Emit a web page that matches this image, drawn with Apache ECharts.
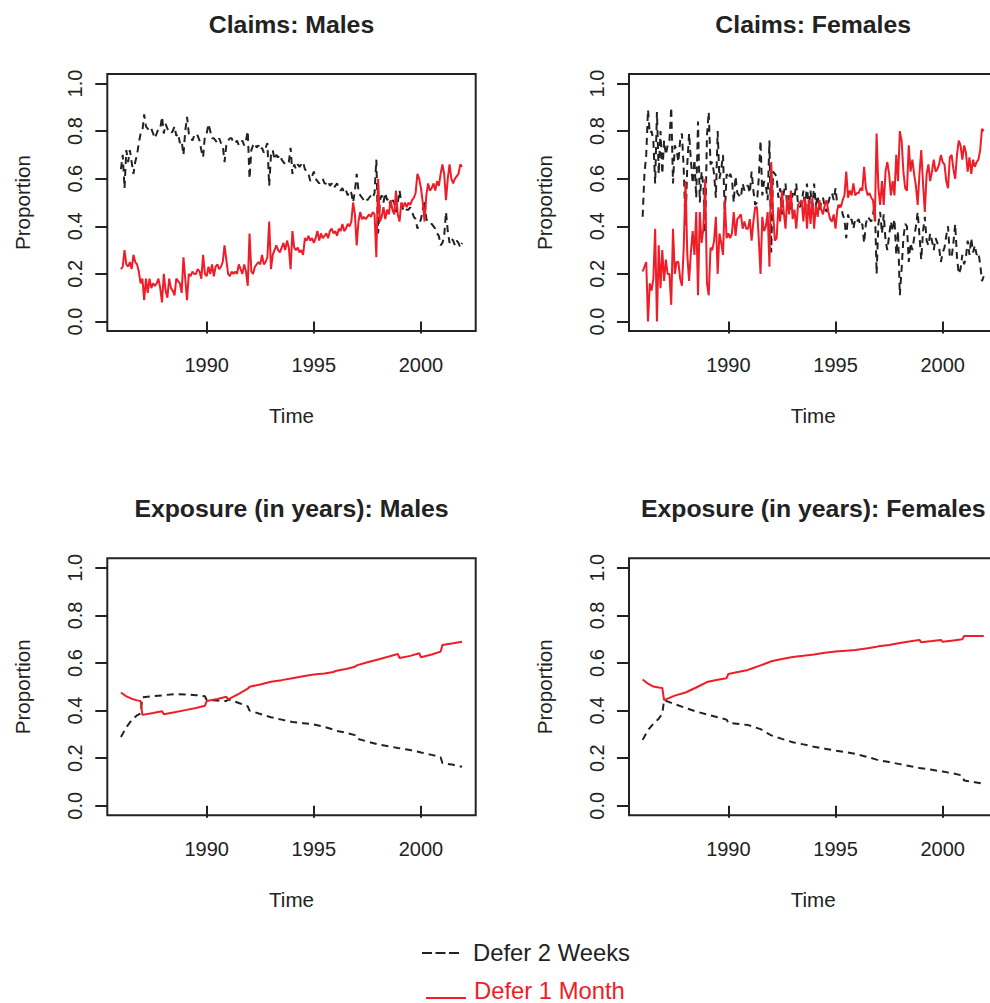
<!DOCTYPE html>
<html>
<head>
<meta charset="utf-8">
<script src="https://cdn.jsdelivr.net/npm/echarts@6/dist/echarts.min.js"></script>
<style>
  html, body { margin: 0; padding: 0; background: #ffffff; }
  #chart { width: 990px; height: 1003px; }
</style>
</head>
<body>
<div id="chart"></div>
<script>
// Monthly proportions of claims, Jan 1986 .. Dec 2001 (one row per year)
const claimsStartYear = 1986;

const claimsMaleD2W = [
  0.64, 0.70, 0.56, 0.72, 0.67, 0.72, 0.67, 0.62, 0.67, 0.70, 0.75, 0.79,
  0.80, 0.87, 0.82, 0.81, 0.80, 0.81, 0.79, 0.77, 0.79, 0.81, 0.81, 0.86,
  0.79, 0.83, 0.81, 0.80, 0.79, 0.80, 0.82, 0.78, 0.79, 0.75, 0.76, 0.70,
  0.80, 0.86, 0.79, 0.78, 0.76, 0.78, 0.79, 0.78, 0.76, 0.72, 0.69, 0.78,
  0.79, 0.83, 0.80, 0.77, 0.77, 0.76, 0.75, 0.77, 0.75, 0.74, 0.67, 0.74,
  0.76, 0.77, 0.77, 0.75, 0.75, 0.76, 0.74, 0.75, 0.76, 0.74, 0.76, 0.80,
  0.60, 0.72, 0.74, 0.75, 0.73, 0.74, 0.72, 0.73, 0.71, 0.73, 0.75, 0.57,
  0.70, 0.72, 0.68, 0.70, 0.69, 0.70, 0.68, 0.67, 0.66, 0.66, 0.67, 0.73,
  0.62, 0.66, 0.64, 0.66, 0.65, 0.66, 0.67, 0.64, 0.63, 0.62, 0.59, 0.61,
  0.63, 0.60, 0.59, 0.58, 0.59, 0.60, 0.58, 0.58, 0.59, 0.57, 0.58, 0.56,
  0.57, 0.58, 0.56, 0.55, 0.56, 0.54, 0.55, 0.53, 0.55, 0.54, 0.50, 0.55,
  0.62, 0.55, 0.53, 0.52, 0.51, 0.52, 0.51, 0.52, 0.53, 0.52, 0.54, 0.68,
  0.37, 0.51, 0.53, 0.50, 0.54, 0.51, 0.52, 0.48, 0.51, 0.50, 0.46, 0.50,
  0.55, 0.50, 0.47, 0.48, 0.47, 0.47, 0.48, 0.46, 0.44, 0.43, 0.39, 0.41,
  0.43, 0.47, 0.51, 0.43, 0.42, 0.41, 0.41, 0.40, 0.39, 0.37, 0.36, 0.32,
  0.33, 0.36, 0.46, 0.38, 0.33, 0.35, 0.34, 0.32, 0.34, 0.33, 0.31, 0.33
];

const claimsMaleD1M = [
  0.22, 0.23, 0.30, 0.24, 0.23, 0.25, 0.22, 0.28, 0.25, 0.24, 0.21, 0.16,
  0.18, 0.09, 0.18, 0.12, 0.18, 0.14, 0.16, 0.15, 0.16, 0.18, 0.14, 0.08,
  0.20, 0.13, 0.10, 0.18, 0.14, 0.13, 0.11, 0.18, 0.17, 0.16, 0.12, 0.27,
  0.18, 0.09, 0.20, 0.19, 0.21, 0.20, 0.20, 0.22, 0.21, 0.18, 0.28, 0.20,
  0.19, 0.23, 0.20, 0.24, 0.19, 0.23, 0.24, 0.22, 0.23, 0.25, 0.32, 0.26,
  0.20, 0.19, 0.21, 0.20, 0.21, 0.20, 0.24, 0.22, 0.20, 0.24, 0.21, 0.15,
  0.37, 0.21, 0.20, 0.23, 0.24, 0.25, 0.24, 0.28, 0.24, 0.25, 0.27, 0.42,
  0.22, 0.28, 0.30, 0.32, 0.30, 0.29, 0.31, 0.33, 0.30, 0.34, 0.31, 0.22,
  0.38, 0.31, 0.30, 0.31, 0.29, 0.30, 0.28, 0.35, 0.34, 0.36, 0.34, 0.35,
  0.33, 0.35, 0.38, 0.34, 0.37, 0.35, 0.36, 0.37, 0.35, 0.38, 0.39, 0.37,
  0.38, 0.36, 0.39, 0.38, 0.41, 0.38, 0.39, 0.41, 0.40, 0.42, 0.50, 0.45,
  0.32, 0.42, 0.46, 0.43, 0.44, 0.43, 0.44, 0.45, 0.44, 0.46, 0.45, 0.27,
  0.60, 0.42, 0.44, 0.48, 0.43, 0.47, 0.45, 0.51, 0.47, 0.45, 0.55, 0.45,
  0.42, 0.50, 0.48, 0.50, 0.48, 0.50, 0.49, 0.51, 0.52, 0.54, 0.62, 0.60,
  0.56, 0.50, 0.42, 0.53, 0.58, 0.55, 0.56, 0.58, 0.55, 0.59, 0.57, 0.62,
  0.66, 0.62, 0.51, 0.60, 0.66, 0.60, 0.58, 0.60, 0.61, 0.62, 0.66, 0.65
];

const claimsFemaleD2W = [
  0.44, 0.62, 0.70, 0.89, 0.79, 0.80, 0.76, 0.58, 0.88, 0.62, 0.80, 0.62,
  0.76, 0.70, 0.74, 0.76, 0.90, 0.58, 0.74, 0.72, 0.67, 0.76, 0.79, 0.64,
  0.40, 0.66, 0.79, 0.68, 0.58, 0.68, 0.52, 0.84, 0.50, 0.63, 0.57, 0.37,
  0.78, 0.88, 0.66, 0.67, 0.62, 0.52, 0.80, 0.60, 0.64, 0.70, 0.45, 0.62,
  0.60, 0.62, 0.60, 0.50, 0.61, 0.54, 0.53, 0.52, 0.58, 0.55, 0.57, 0.57,
  0.54, 0.63, 0.55, 0.49, 0.50, 0.60, 0.76, 0.53, 0.59, 0.57, 0.51, 0.76,
  0.29, 0.63, 0.62, 0.61, 0.52, 0.56, 0.45, 0.54, 0.58, 0.47, 0.53, 0.46,
  0.54, 0.52, 0.58, 0.49, 0.48, 0.50, 0.55, 0.47, 0.58, 0.47, 0.55, 0.46,
  0.58, 0.49, 0.53, 0.47, 0.50, 0.52, 0.48, 0.46, 0.50, 0.53, 0.54, 0.51,
  0.56, 0.49, 0.48, 0.49, 0.45, 0.43, 0.35, 0.45, 0.42, 0.43, 0.39, 0.43,
  0.42, 0.43, 0.40, 0.41, 0.33, 0.41, 0.44, 0.43, 0.42, 0.45, 0.50, 0.20,
  0.41, 0.46, 0.37, 0.45, 0.34, 0.30, 0.36, 0.42, 0.38, 0.43, 0.28, 0.38,
  0.11, 0.22, 0.35, 0.41, 0.40, 0.25, 0.33, 0.30, 0.35, 0.40, 0.46, 0.36,
  0.26, 0.38, 0.44, 0.34, 0.32, 0.37, 0.34, 0.30, 0.35, 0.33, 0.31, 0.25,
  0.29, 0.31, 0.36, 0.40, 0.27, 0.27, 0.33, 0.41, 0.27, 0.20, 0.22, 0.28,
  0.24, 0.27, 0.34, 0.28, 0.35, 0.29, 0.32, 0.28, 0.29, 0.24, 0.17, 0.19
];

const claimsFemaleD1M = [
  0.21, 0.23, 0.25, 0.00, 0.16, 0.13, 0.18, 0.39, 0.00, 0.32, 0.14, 0.30,
  0.17, 0.26, 0.20, 0.20, 0.07, 0.39, 0.20, 0.25, 0.25, 0.18, 0.15, 0.31,
  0.59, 0.28, 0.17, 0.29, 0.38, 0.28, 0.46, 0.11, 0.46, 0.33, 0.39, 0.60,
  0.16, 0.11, 0.31, 0.30, 0.34, 0.44, 0.20, 0.37, 0.33, 0.28, 0.51, 0.35,
  0.37, 0.35, 0.37, 0.46, 0.36, 0.43, 0.44, 0.45, 0.39, 0.42, 0.39, 0.39,
  0.43, 0.34, 0.42, 0.48, 0.48, 0.35, 0.20, 0.44, 0.38, 0.40, 0.46, 0.23,
  0.67, 0.46, 0.34, 0.35, 0.48, 0.42, 0.55, 0.46, 0.39, 0.53, 0.45, 0.55,
  0.43, 0.47, 0.39, 0.49, 0.50, 0.51, 0.42, 0.52, 0.39, 0.51, 0.41, 0.52,
  0.39, 0.49, 0.44, 0.51, 0.47, 0.45, 0.49, 0.51, 0.46, 0.43, 0.42, 0.45,
  0.39, 0.47, 0.49, 0.48, 0.51, 0.53, 0.63, 0.52, 0.55, 0.53, 0.58, 0.53,
  0.54, 0.54, 0.56, 0.55, 0.65, 0.56, 0.53, 0.54, 0.52, 0.51, 0.42, 0.79,
  0.56, 0.49, 0.59, 0.49, 0.63, 0.67, 0.62, 0.53, 0.59, 0.53, 0.70, 0.59,
  0.80, 0.76, 0.63, 0.56, 0.55, 0.74, 0.63, 0.68, 0.62, 0.57, 0.49, 0.62,
  0.72, 0.58, 0.46, 0.62, 0.66, 0.59, 0.63, 0.68, 0.63, 0.64, 0.66, 0.70,
  0.67, 0.66, 0.59, 0.56, 0.69, 0.70, 0.64, 0.60, 0.70, 0.76, 0.74, 0.68,
  0.74, 0.71, 0.63, 0.69, 0.62, 0.68, 0.65, 0.67, 0.68, 0.72, 0.81, 0.80
];

// Exposure proportions: smooth curves with small steps at year ends
const exposureTime = [
  1986.0, 1986.25, 1986.5, 1986.75, 1986.917, 1987.0, 1987.5, 1987.917, 1988.0, 1988.5,
  1989.0, 1989.5, 1989.917, 1990.0, 1990.5, 1990.917, 1991.0, 1991.5, 1991.917, 1992.0,
  1992.5, 1993.0, 1993.5, 1994.0, 1994.5, 1995.0, 1995.5, 1995.917, 1996.0, 1996.5,
  1996.917, 1997.0, 1997.5, 1998.0, 1998.5, 1998.917, 1999.0, 1999.5, 1999.917, 2000.0,
  2000.5, 2000.917, 2001.0, 2001.5, 2001.917
];

const exposureMaleD2W = [
  0.289, 0.330, 0.360, 0.380, 0.388, 0.456, 0.461, 0.464, 0.465, 0.469,
  0.468, 0.465, 0.460, 0.445, 0.442, 0.440, 0.447, 0.432, 0.418, 0.400,
  0.386, 0.372, 0.362, 0.352, 0.347, 0.342, 0.331, 0.320, 0.316, 0.307,
  0.297, 0.282, 0.270, 0.258, 0.250, 0.243, 0.242, 0.234, 0.226, 0.224,
  0.214, 0.204, 0.180, 0.172, 0.164
];

const exposureMaleD1M = [
  0.476, 0.460, 0.450, 0.443, 0.440, 0.382, 0.390, 0.397, 0.385, 0.393,
  0.402, 0.411, 0.420, 0.440, 0.449, 0.458, 0.447, 0.470, 0.492, 0.500,
  0.510, 0.521, 0.528, 0.536, 0.544, 0.552, 0.556, 0.562, 0.566, 0.575,
  0.584, 0.590, 0.603, 0.615, 0.627, 0.638, 0.621, 0.630, 0.641, 0.624,
  0.636, 0.648, 0.676, 0.683, 0.689
];

const exposureFemaleD2W = [
  0.277, 0.318, 0.345, 0.366, 0.387, 0.444, 0.427, 0.414, 0.411, 0.396,
  0.384, 0.372, 0.362, 0.348, 0.344, 0.339, 0.337, 0.322, 0.300, 0.296,
  0.281, 0.267, 0.258, 0.248, 0.240, 0.232, 0.225, 0.218, 0.216, 0.205,
  0.194, 0.192, 0.184, 0.175, 0.166, 0.159, 0.158, 0.151, 0.145, 0.144,
  0.136, 0.127, 0.106, 0.099, 0.092
];

const exposureFemaleD1M = [
  0.531, 0.513, 0.501, 0.497, 0.495, 0.444, 0.463, 0.474, 0.476, 0.497,
  0.520, 0.530, 0.536, 0.554, 0.563, 0.571, 0.574, 0.590, 0.604, 0.607,
  0.617, 0.625, 0.630, 0.636, 0.643, 0.648, 0.652, 0.655, 0.656, 0.662,
  0.668, 0.670, 0.676, 0.684, 0.691, 0.697, 0.687, 0.692, 0.697, 0.689,
  0.695, 0.700, 0.713, 0.714, 0.714
];

const panelTitles = [
  'Claims: Males', 'Claims: Females',
  'Exposure (in years): Males', 'Exposure (in years): Females'
];
const xTickValues = [1990, 1995, 2000];
const yTickValues = [0, 0.2, 0.4, 0.6, 0.8, 1.0];
const legendLabels = ['Defer 2 Weeks', 'Defer 1 Month'];

// ---------------------------------------------------------------------------
const FONT = '"Liberation Sans", Arial, Helvetica, sans-serif';
const INK = '#222222';
const RED = '#ee1d27';

const monthTime = claimsMaleD2W.map((_, i) => claimsStartYear + i / 12);
const pairs = (t, v) => v.map((y, i) => [t[i], y]);

// Plot boxes (pixels): [left, top]
const boxW = 368.4, boxH = 257;
const boxes = [[107.3, 74], [629, 74], [107.3, 558.3], [629, 558.3]];
const X_MIN = 1985.363, X_MAX = 2002.553;

const grids = boxes.map(([l, t]) => ({
  left: l, top: t, width: boxW, height: boxH,
  show: true, borderColor: INK, borderWidth: 2, backgroundColor: 'transparent',
  containLabel: false, outerBoundsMode: 'none'
}));

const xAxes = boxes.map((_, k) => ({
  type: 'value', gridIndex: k, min: X_MIN, max: X_MAX,
  axisLine: { show: false }, splitLine: { show: false },
  axisTick: { show: true, length: 12, inside: false, customValues: xTickValues,
              lineStyle: { color: INK, width: 2 } },
  axisLabel: { customValues: xTickValues, fontSize: 20, color: INK, fontFamily: FONT, margin: 24,
               formatter: v => String(v) },
  name: 'Time', nameLocation: 'middle', nameGap: 74,
  nameTextStyle: { fontSize: 20.6, color: INK, fontFamily: FONT }
}));

const yAxes = boxes.map((_, k) => ({
  type: 'value', gridIndex: k, min: -0.04, max: 1.04,
  axisLine: { show: false }, splitLine: { show: false },
  axisTick: { show: true, length: 12, inside: false, customValues: yTickValues,
              lineStyle: { color: INK, width: 2 } },
  axisLabel: { customValues: yTickValues, rotate: 90, fontSize: 20, color: INK, fontFamily: FONT,
               margin: 22, formatter: v => v.toFixed(1) },
  name: 'Proportion', nameLocation: 'middle', nameRotate: 90, nameGap: 74,
  nameTextStyle: { fontSize: 20.6, color: INK, fontFamily: FONT }
}));

const dashedStyle = { color: INK, width: 2, type: [7, 5] };
const solidStyle = { color: RED, width: 2, type: 'solid' };

const panelData = [
  [pairs(monthTime, claimsMaleD2W), pairs(monthTime, claimsMaleD1M)],
  [pairs(monthTime, claimsFemaleD2W), pairs(monthTime, claimsFemaleD1M)],
  [pairs(exposureTime, exposureMaleD2W), pairs(exposureTime, exposureMaleD1M)],
  [pairs(exposureTime, exposureFemaleD2W), pairs(exposureTime, exposureFemaleD1M)]
];

const series = [];
panelData.forEach(([d2w, d1m], k) => {
  series.push({
    name: legendLabels[0], type: 'line', xAxisIndex: k, yAxisIndex: k, data: d2w,
    showSymbol: false, symbol: 'none', lineStyle: dashedStyle, z: 2,
    emphasis: { disabled: true }, animation: false
  });
  series.push({
    name: legendLabels[1], type: 'line', xAxisIndex: k, yAxisIndex: k, data: d1m,
    showSymbol: false, symbol: 'none', lineStyle: solidStyle, z: 3,
    emphasis: { disabled: true }, animation: false
  });
});

const titleText = boxes.map(([l, t], k) => ({
  type: 'text', x: l + boxW / 2, y: t - 50,
  style: { text: panelTitles[k], fontSize: 24.8, fontWeight: 'bold', fontFamily: FONT,
           fill: INK, align: 'center', verticalAlign: 'middle' }
}));

const legendItems = [
  { type: 'line', shape: { x1: 422, y1: 953, x2: 460, y2: 953 },
    style: { stroke: INK, lineWidth: 2, lineDash: [10, 3.5] } },
  { type: 'text', x: 473, y: 952,
    style: { text: legendLabels[0], fontSize: 23.8, fontFamily: FONT, fill: INK,
             align: 'left', verticalAlign: 'middle' } },
  { type: 'line', shape: { x1: 426, y1: 998, x2: 466, y2: 998 },
    style: { stroke: RED, lineWidth: 2 } },
  { type: 'text', x: 474, y: 990,
    style: { text: legendLabels[1], fontSize: 23.8, fontFamily: FONT, fill: RED,
             align: 'left', verticalAlign: 'middle' } }
];

const chart = echarts.init(document.getElementById('chart'), null, { renderer: 'svg' });
chart.setOption({
  animation: false,
  backgroundColor: '#ffffff',
  textStyle: { fontFamily: FONT },
  grid: grids,
  xAxis: xAxes,
  yAxis: yAxes,
  series: series,
  graphic: { elements: titleText.concat(legendItems) }
});
</script>
</body>
</html>
